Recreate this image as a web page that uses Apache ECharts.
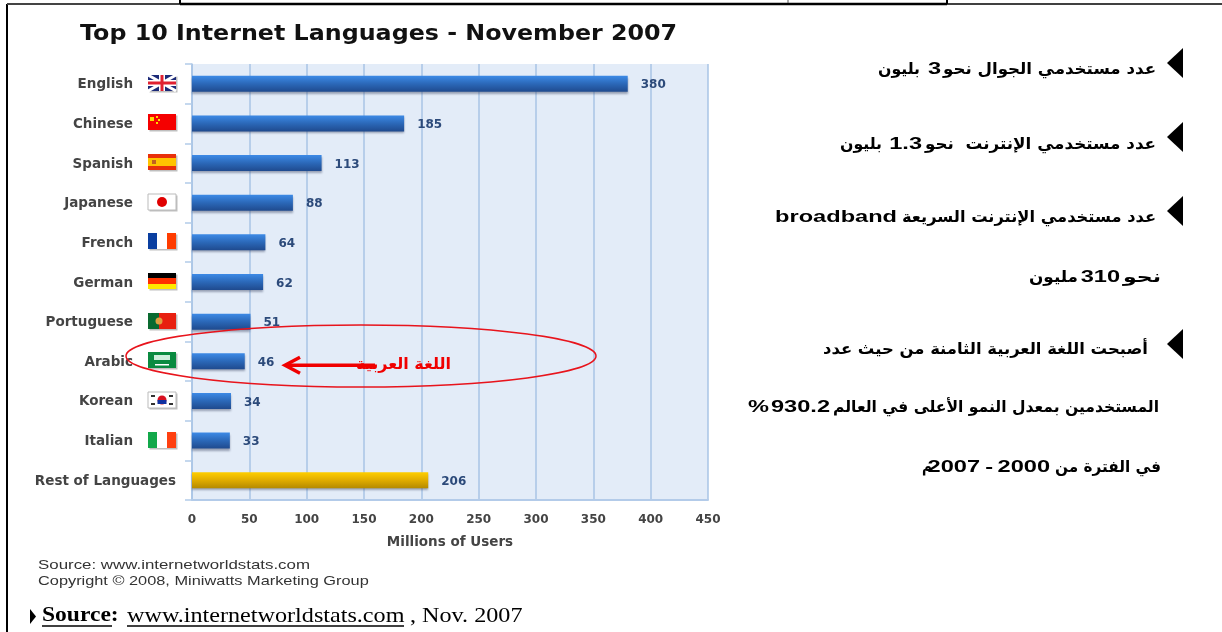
<!DOCTYPE html>
<html>
<head>
<meta charset="utf-8">
<style>
  html, body { margin: 0; background: #fff; }
  #main { width: 1222px; height: 632px; }
</style>
<script src="https://cdn.jsdelivr.net/npm/echarts@6/dist/echarts.min.js"></script>
</head>
<body>
<div id="main"></div>
<script>
const languages = ['English', 'Chinese', 'Spanish', 'Japanese', 'French', 'German', 'Portuguese', 'Arabic', 'Korean', 'Italian', 'Rest of Languages']
const users = [380, 185, 113, 88, 64, 62, 51, 46, 34, 33, 206]
const xTicks = [0, 50, 100, 150, 200, 250, 300, 350, 400, 450]
// right hand notes, each piece is [text, left edge, right edge, centre y]
const arabicPieces = [
  ['عدد مستخدمي الجوال نحو', 943, 1156, 70],
  ['بليون', 878, 920, 70],
  ['عدد مستخدمي الإنترنت  نحو', 925, 1156, 145],
  ['بليون', 840, 882, 145],
  ['عدد مستخدمي الإنترنت السريعة', 902, 1156, 218],
  ['نحو', 1123, 1161, 278],
  ['مليون', 1029, 1078, 278],
  ['أصبحت اللغة العربية الثامنة من حيث عدد', 823, 1148, 350],
  ['المستخدمين بمعدل النمو الأعلى في العالم', 833, 1159, 408],
  ['في الفترة من', 1055, 1161, 468],
  ['م', 922, 932, 468],
]
const latinPieces = [
  ['3', 941, 69],
  ['1.3', 922, 144],
  ['broadband', 897, 217],
  ['310', 1120, 277],
  ['930.2', 830, 407],
  ['%', 769, 407],
  ['2000', 1050, 467],
  ['-', 993, 467],
  ['2007', 980, 467],
]
const bulletTops = [48, 122, 196, 329]

const blueBar = new echarts.graphic.LinearGradient(0, 0, 0, 1, [
  { offset: 0, color: '#3d8ae6' },
  { offset: 0.5, color: '#2b68b8' },
  { offset: 1, color: '#1f4a8e' },
])
const goldBar = new echarts.graphic.LinearGradient(0, 0, 0, 1, [
  { offset: 0, color: '#ffcf00' },
  { offset: 0.5, color: '#e0ac00' },
  { offset: 1, color: '#b58a00' },
])

function txt(text, x, y, font, fill, align, scaleX) {
  return { type: 'text', x, y, scaleX: scaleX || 1, z: 20, style: { text, font, fill: fill || '#000', align: align || 'left', verticalAlign: 'middle' } }
}
function box(x, y, w, h, fill) {
  return { type: 'rect', shape: { x, y, width: w, height: h }, style: { fill } }
}
function hline(x1, y1, x2, y2, width, color) {
  return { type: 'line', z: 20, shape: { x1, y1, x2, y2 }, style: { stroke: color || '#000', lineWidth: width } }
}

// the arabic pieces get squeezed to the width they have in the picture
const arabicFont = 'bold 16px "DejaVu Sans"'
const measureCtx = document.createElement('canvas').getContext('2d')
measureCtx.font = arabicFont
function arabicPiece(p) {
  const s = '\u202B' + p[0] + '\u202C'
  return txt(s, p[2], p[3], arabicFont, '#000', 'right', (p[2] - p[1]) / measureCtx.measureText(s).width)
}

// little flags, drawn 28x16 around the row centre
const flags = {
  English: [box(0, 0, 28, 16, '#1c2a78'),
    { type: 'line', shape: { x1: 0, y1: 0, x2: 28, y2: 16 }, style: { stroke: '#fff', lineWidth: 3 } },
    { type: 'line', shape: { x1: 28, y1: 0, x2: 0, y2: 16 }, style: { stroke: '#fff', lineWidth: 3 } },
    box(11, 0, 6, 16, '#fff'), box(0, 5, 28, 6, '#fff'), box(12.5, 0, 3, 16, '#e02030'), box(0, 6.5, 28, 3, '#e02030')],
  Chinese: [box(0, 0, 28, 16, '#f50000'), box(2, 3, 4, 4, '#ffd800'), box(8, 2, 2, 2, '#ffd800'), box(10, 5, 2, 2, '#ffd800'), box(8, 8, 2, 2, '#ffd800')],
  Spanish: [box(0, 0, 28, 16, '#e8300a'), box(0, 4, 28, 8, '#ffc400'), box(4, 6, 4, 4, '#c06020')],
  Japanese: [box(0, 0, 28, 16, '#fff'), { type: 'circle', shape: { cx: 14, cy: 8, r: 5 }, style: { fill: '#e00000' } },
    { type: 'rect', shape: { x: 0, y: 0, width: 28, height: 16 }, style: { fill: 'none', stroke: '#bbb' } }],
  French: [box(0, 0, 28, 16, '#fff'), box(0, 0, 9, 16, '#0a3fa0'), box(19, 0, 9, 16, '#ff3c00')],
  German: [box(0, 0, 28, 16, '#000'), box(0, 5, 28, 6, '#ff3000'), box(0, 11, 28, 5, '#ffe800')],
  Portuguese: [box(0, 0, 28, 16, '#e82010'), box(0, 0, 11, 16, '#0a6a30'), { type: 'circle', shape: { cx: 11, cy: 8, r: 3.5 }, style: { fill: '#e0a040' } }],
  Arabic: [box(0, 0, 28, 16, '#0a8a40'), box(6, 3, 16, 5, '#cfeedd'), box(7, 12, 14, 1.5, '#fff')],
  Korean: [box(0, 0, 28, 16, '#fff'), { type: 'circle', shape: { cx: 14, cy: 8, r: 4.5 }, style: { fill: '#d81020' } }, box(9.5, 8, 9, 4, '#1030a0'),
    box(3, 3, 4, 2, '#333'), box(21, 3, 4, 2, '#333'), box(3, 11, 4, 2, '#333'), box(21, 11, 4, 2, '#333'),
    { type: 'rect', shape: { x: 0, y: 0, width: 28, height: 16 }, style: { fill: 'none', stroke: '#bbb' } }],
  Italian: [box(0, 0, 28, 16, '#fff'), box(0, 0, 9, 16, '#12a84a'), box(19, 0, 9, 16, '#ff4010')],
}

let myChart = echarts.init(document.getElementById('main'))
let option = {
  animation: false,
  backgroundColor: '#fff',
  grid: { left: 192, top: 64, width: 516, height: 436, backgroundColor: '#e3ecf8', show: true, borderWidth: 0 },
  xAxis: {
    type: 'value', min: 0, max: 450, interval: 50,
    axisLine: { show: true, onZero: false, lineStyle: { color: '#b3cbe9', width: 2 } },
    axisTick: { show: false },
    splitLine: { lineStyle: { color: '#a9c4e6', width: 1.5 } },
    axisLabel: { margin: 14, color: '#444', fontFamily: 'DejaVu Sans', fontWeight: 'bold', fontSize: 12, customValues: xTicks },
    name: 'Millions of Users', nameLocation: 'middle', nameGap: 35.5,
    nameTextStyle: { color: '#444', fontFamily: 'DejaVu Sans', fontWeight: 'bold', fontSize: 13.5 },
  },
  yAxis: {
    type: 'category', inverse: true, data: languages,
    axisLine: { show: true, lineStyle: { color: '#a9c4e6', width: 1.5 } },
    axisTick: { show: true, length: 7, lineStyle: { color: '#b3cbe9', width: 1.5 } },
    axisLabel: {
      margin: 16, interval: 0,
      formatter: v => (v === 'Rest of Languages' ? `{n|${v}}` : `{n|${v}}{gap|}`),
      rich: {
        n: { color: '#444', fontFamily: 'DejaVu Sans', fontWeight: 'bold', fontSize: 13.5, padding: [2, 0, 0, 0] },
        gap: { width: 43 },
      },
    },
  },
  series: [{
    type: 'bar',
    data: users.map((v, i) => ({ value: v, itemStyle: { color: i === users.length - 1 ? goldBar : blueBar } })),
    barWidth: 16,
    itemStyle: { shadowColor: 'rgba(60,70,100,0.45)', shadowBlur: 2, shadowOffsetY: 2 },
    label: { show: true, position: 'right', distance: 13, offset: [0, 1.5], color: '#2c4a7a', fontFamily: 'DejaVu Sans', fontWeight: 'bold', fontSize: 12 },
  }],
}
myChart.setOption(option)

// flags sit on the category rows, the rest is page furniture around the chart
const flagGroups = languages.filter(l => flags[l]).map(l => {
  const cy = myChart.convertToPixel({ yAxisIndex: 0 }, l)
  return {
    type: 'group', x: 148, y: Math.round(cy - 9), z: 15,
    children: [{ type: 'rect', shape: { x: 1.5, y: 1.5, width: 28, height: 16 }, style: { fill: 'rgba(0,0,0,0.25)' } }].concat(flags[l]),
  }
})
const arrowY = myChart.convertToPixel({ yAxisIndex: 0 }, 'Arabic') + 4

const serif = 'Liberation Serif'
myChart.setOption({
  graphic: [
    ...flagGroups,
    txt('Top 10 Internet Languages - November 2007', 80, 34, 'bold 22px "DejaVu Sans"', '#111', 'left', 1.08),
    txt('Source: www.internetworldstats.com', 38, 565, '13.5px "Liberation Sans"', '#333', 'left', 1.25),
    txt('Copyright © 2008, Miniwatts Marketing Group', 38, 581, '13.5px "Liberation Sans"', '#333', 'left', 1.21),
    { type: 'ellipse', z: 18, shape: { cx: 361, cy: 356, rx: 235, ry: 31 }, style: { fill: 'none', stroke: '#e8141c', lineWidth: 1.5 } },
    { type: 'line', z: 18, shape: { x1: 286, y1: arrowY, x2: 375, y2: arrowY }, style: { stroke: '#f00000', lineWidth: 3.5 } },
    { type: 'polyline', z: 18, shape: { points: [[300, arrowY - 8], [285, arrowY], [300, arrowY + 8]] }, style: { fill: 'none', stroke: '#f00000', lineWidth: 3.5 } },
    txt('\u202Bاللغة العربية\u202C', 451, arrowY, 'bold 16px "DejaVu Sans"', '#f00000', 'right'),
    ...arabicPieces.map(arabicPiece),
    ...latinPieces.map(l => txt(l[0], l[1], l[2], 'bold 16.5px "Liberation Sans"', '#000', 'right', 1.43)),
    ...bulletTops.map(t => ({ type: 'polygon', z: 20, shape: { points: [[1183, t], [1183, t + 30], [1167, t + 15]] }, style: { fill: '#000' } })),
    { type: 'polygon', z: 20, shape: { points: [[30, 609], [30, 624], [36, 616.5]] }, style: { fill: '#000' } },
    txt('Source:', 42, 616, 'bold 21px "' + serif + '"', '#000', 'left', 1.12),
    txt('www.internetworldstats.com', 127, 616, '21px "' + serif + '"', '#000', 'left', 1.15),
    txt(', Nov. 2007', 410, 616, '21px "' + serif + '"', '#000', 'left', 1.15),
    hline(42, 626, 112, 626, 1.5),
    hline(127, 626, 404, 626, 1.5),
    hline(7, 4, 7, 632, 2),
    hline(7, 4, 180, 4, 2, '#444'),
    hline(180, 4, 947, 4, 2.5),
    hline(947, 4, 1222, 4, 1.5),
    hline(180, 0, 180, 4, 2),
    hline(947, 0, 947, 4, 2),
    hline(788, 0, 788, 3, 1, '#555'),
  ],
})
window.addEventListener('resize', () => {
  myChart.resize()
})
</script>
</body>
</html>
